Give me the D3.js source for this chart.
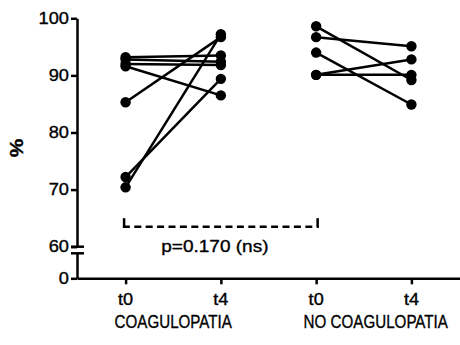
<!DOCTYPE html>
<html>
<head>
<meta charset="utf-8">
<script src="https://cdn.jsdelivr.net/npm/d3@7"></script>
<style>
  body { margin: 0; background: #fff; }
  text { font-family: "Liberation Sans", Arial, sans-serif; fill: #000; stroke: #000; stroke-width: 0.35px; }
</style>
</head>
<body>
<script>
// data
var timeLabels = ["t0", "t4", "t0", "t4"];
var groupNames = ["COAGULOPATIA", "NO COAGULOPATIA"];
var coagT0 = [93.2, 92.8, 92.0, 91.6, 85.3, 72.2, 70.4];
var coagT4 = [93.5, 92.4, 91.8, 86.5, 96.7, 89.4, 97.2];
var noCoagT0 = [98.6, 96.7, 94.0, 90.1, 90.1];
var noCoagT4 = [89.2, 95.1, 84.9, 92.8, 90.1];
var topTicks = [60, 70, 80, 90, 100];
var bottomTicks = [0];
var pLabel = "p=0.170 (ns)";

var width = 460, height = 345;

var svg = d3.select("body").append("svg")
    .attr("width", width)
    .attr("height", height);

var x = d3.scalePoint().domain([0, 1, 2, 3]).range([77, 460]).padding(0.51);
var yTop = d3.scaleLinear().domain([60, 100]).range([246.7, 18.3]);
var yBot = d3.scaleLinear().domain([0, 5]).range([278.3, 253.3]);

// text with a horizontal stretch, the picture's fonts are not square
function label(g, tx, ty, str, size, sx, anchor) {
    return g.append("text")
        .attr("transform", "translate(" + tx + "," + ty + ") scale(" + sx + ",1)")
        .attr("font-size", size + "px")
        .style("text-anchor", anchor || "middle")
        .text(str);
}

// subjects as pairs
var pairs = [];
coagT0.forEach(function(v, i) { pairs.push({ a: 0, b: 1, v0: v, v1: coagT4[i] }); });
noCoagT0.forEach(function(v, i) { pairs.push({ a: 2, b: 3, v0: v, v1: noCoagT4[i] }); });

// axes
var axisG = svg.append("g");

axisG.append("g")
    .attr("transform", "translate(77,0)")
    .call(d3.axisLeft(yTop).tickValues(topTicks).tickSize(6).tickSizeOuter(0).tickFormat(""));
axisG.append("g")
    .attr("transform", "translate(77,0)")
    .call(d3.axisLeft(yBot).tickValues(bottomTicks).tickSize(6).tickSizeOuter(0).tickFormat(""));
axisG.append("g")
    .attr("transform", "translate(0,278.3)")
    .call(d3.axisBottom(x).tickSize(6).tickSizeOuter(0).tickFormat(""));

axisG.selectAll("path.domain, .tick line")
    .attr("stroke", "#000")
    .attr("stroke-width", 2.5);

// axis break marks
[yTop(60), yBot(5)].forEach(function(yy) {
    axisG.append("line")
        .attr("x1", 71).attr("x2", 84)
        .attr("y1", yy).attr("y2", yy)
        .attr("stroke", "#000").attr("stroke-width", 2.5);
});

// tick labels
topTicks.forEach(function(t) { label(svg, 69, yTop(t) + 5.6, t, 16, 1.14, "end"); });
bottomTicks.forEach(function(t) { label(svg, 69, yBot(t) + 5.6, t, 16, 1.14, "end"); });
timeLabels.forEach(function(t, i) { label(svg, x(i), 305, t, 16, 1.13); });
label(svg, (x(0) + x(1)) / 2, 328.3, groupNames[0], 18.5, 0.82);
label(svg, (x(2) + x(3)) / 2 + 12, 328.3, groupNames[1], 18.5, 0.82);

svg.append("text")
    .attr("transform", "translate(23,148) rotate(-90) scale(1.1,1)")
    .attr("font-size", "19px")
    .attr("font-weight", "bold")
    .style("text-anchor", "middle")
    .text("%");

// paired lines
svg.append("g").selectAll("line")
    .data(pairs)
    .enter().append("line")
    .attr("x1", function(d) { return x(d.a); })
    .attr("x2", function(d) { return x(d.b); })
    .attr("y1", function(d) { return yTop(d.v0); })
    .attr("y2", function(d) { return yTop(d.v1); })
    .attr("stroke", "#000")
    .attr("stroke-width", 2.5);

var dots = [];
pairs.forEach(function(d) {
    dots.push({ k: d.a, v: d.v0 });
    dots.push({ k: d.b, v: d.v1 });
});
svg.append("g").selectAll("circle")
    .data(dots)
    .enter().append("circle")
    .attr("cx", function(d) { return x(d.k); })
    .attr("cy", function(d) { return yTop(d.v); })
    .attr("r", 5.2)
    .attr("fill", "#000");

// significance bracket between the two t0 columns
var bx0 = x(0) - 1.5, bx1 = x(2) + 1.5, by = yTop(63.5), byTop = yTop(65);
svg.append("path")
    .attr("d", "M" + bx0 + "," + byTop + "V" + by)
    .attr("stroke", "#000").attr("stroke-width", 2.5).attr("fill", "none");
svg.append("path")
    .attr("d", "M" + bx1 + "," + byTop + "V" + by)
    .attr("stroke", "#000").attr("stroke-width", 2.5).attr("fill", "none");
svg.append("line")
    .attr("x1", bx0 - 1.2).attr("x2", bx1 + 1.2)
    .attr("y1", by).attr("y2", by)
    .attr("stroke", "#000").attr("stroke-width", 2.5)
    .attr("stroke-dasharray", "7,4.4");
label(svg, (bx0 + bx1) / 2 - 6, 251.7, pLabel, 17, 1.12);
</script>
</body>
</html>
